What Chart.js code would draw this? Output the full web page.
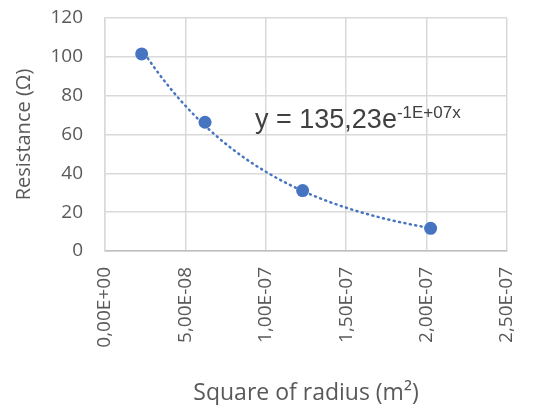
<!DOCTYPE html>
<html>
<head>
<meta charset="utf-8">
<script src="https://cdn.jsdelivr.net/npm/chart.js@4.4.1/dist/chart.umd.min.js"></script>
<style>
  html, body { margin: 0; padding: 0; background: #ffffff; }
  #wrap { width: 544px; height: 405px; position: relative; }
</style>
</head>
<body>
<div id="wrap"><canvas id="c" width="544" height="405"></canvas></div>
<script>
// ---- data ----
const radiusSquared = [2.28e-8, 6.22e-8, 1.229e-7, 2.025e-7];   // m^2
const resistance = [101.5, 66.3, 31.1, 11.7];                   // ohm
const xTickValues = [0, 5e-8, 1e-7, 1.5e-7, 2e-7, 2.5e-7];
const xTickLabels = ['0,00E+00', '5,00E-08', '1,00E-07', '1,50E-07', '2,00E-07', '2,50E-07'];
const yTickValues = [0, 20, 40, 60, 80, 100, 120];
const yTickLabels = ['0', '20', '40', '60', '80', '100', '120'];
const equationMain = 'y = 135,23e';
const equationSup = '-1E+07x';
const xTitle = 'Square of radius (m\u00B2)';
const yTitle = 'Resistance (\u03A9)';

// exponential least-squares trendline (as a spreadsheet does), from the data
function expFit(xs, ys) {
  const n = xs.length;
  let sx = 0, sy = 0, sxx = 0, sxy = 0;
  for (let i = 0; i < n; i++) {
    const ly = Math.log(ys[i]);
    sx += xs[i]; sy += ly; sxx += xs[i] * xs[i]; sxy += xs[i] * ly;
  }
  const b = (n * sxy - sx * sy) / (n * sxx - sx * sx);
  const a = Math.exp((sy - b * sx) / n);
  return { a, b };
}
const fit = expFit(radiusSquared, resistance);
const trendPoints = [];
{
  const x0 = radiusSquared[0], x1 = radiusSquared[radiusSquared.length - 1];
  const steps = 60;
  for (let i = 0; i <= steps; i++) {
    const x = x0 + (x1 - x0) * i / steps;
    trendPoints.push({ x: x, y: fit.a * Math.exp(fit.b * x) });
  }
}

const BLUE = '#4674c1';
const TEXT = '#595959';
const GRID = '#d9d9d9';
const FONT = "'Open Sans', sans-serif";

const equationPlugin = {
  id: 'equation',
  afterDatasetsDraw(chart) {
    const ctx = chart.ctx;
    const xs = chart.scales.x, ys = chart.scales.y;
    const px = xs.getPixelForValue(9.33e-8);
    const py = ys.getPixelForValue(63.5);
    ctx.save();
    ctx.fillStyle = '#404040';
    ctx.textBaseline = 'alphabetic';
    ctx.textAlign = 'left';
    ctx.font = "27px 'Liberation Sans', Arial, sans-serif";
    ctx.fillText(equationMain, px, py);
    const w = ctx.measureText(equationMain).width;
    ctx.font = "17px 'Liberation Sans', Arial, sans-serif";
    ctx.fillText(equationSup, px + w, py - 10);
    ctx.restore();
  }
};

new Chart(document.getElementById('c'), {
  type: 'scatter',
  data: {
    datasets: [
      {
        label: 'trend',
        data: trendPoints,
        showLine: true,
        borderColor: BLUE,
        borderWidth: 2.5,
        borderDash: [1, 4.5],
        borderCapStyle: 'round',
        pointRadius: 0,
        fill: false,
        order: 2
      },
      {
        label: 'Resistance',
        data: radiusSquared.map((x, i) => ({ x: x, y: resistance[i] })),
        backgroundColor: BLUE,
        borderColor: BLUE,
        pointRadius: 6.5,
        pointBorderWidth: 0,
        showLine: false,
        order: 1
      }
    ]
  },
  options: {
    responsive: false,
    animation: false,
    events: [],
    layout: { padding: { left: 0, right: 37, top: 18, bottom: 0 } },
    plugins: {
      legend: { display: false },
      tooltip: { enabled: false }
    },
    scales: {
      x: {
        type: 'linear',
        min: 0,
        max: 2.5e-7,
        afterBuildTicks(scale) { scale.ticks = xTickValues.map(v => ({ value: v })); },
        afterFit(scale) { scale.height = 154; scale.paddingLeft = 0; scale.paddingRight = 0; scale.paddingTop = 0; scale.paddingBottom = 0; },
        grid: { color: GRID, lineWidth: 1.5, drawTicks: false },
        border: { color: '#bfbfbf', width: 1.5 },
        ticks: {
          color: TEXT,
          font: { family: FONT, size: 19 },
          padding: 16,
          minRotation: 90,
          maxRotation: 90,
          callback(value, index) { return xTickLabels[index]; }
        },
        title: {
          display: true,
          text: xTitle,
          color: TEXT,
          font: { family: FONT, size: 23, lineHeight: 1 },
          padding: { top: 0, bottom: 0 }
        }
      },
      y: {
        min: 0,
        max: 120,
        afterBuildTicks(scale) { scale.ticks = yTickValues.map(v => ({ value: v })); },
        afterFit(scale) { scale.width = 105; scale.paddingTop = 0; scale.paddingBottom = 0; scale.paddingLeft = 0; scale.paddingRight = 0; },
        grid: { color: GRID, lineWidth: 1.5, drawTicks: false },
        border: { color: GRID, width: 1.5 },
        ticks: {
          color: TEXT,
          font: { family: FONT, size: 19 },
          padding: 22,
          callback(value, index) { return yTickLabels[index]; }
        },
        title: {
          display: true,
          text: yTitle,
          color: TEXT,
          font: { family: FONT, size: 20 },
          padding: { top: 12, bottom: 0 }
        }
      }
    }
  },
  plugins: [equationPlugin]
});
</script>
</body>
</html>
